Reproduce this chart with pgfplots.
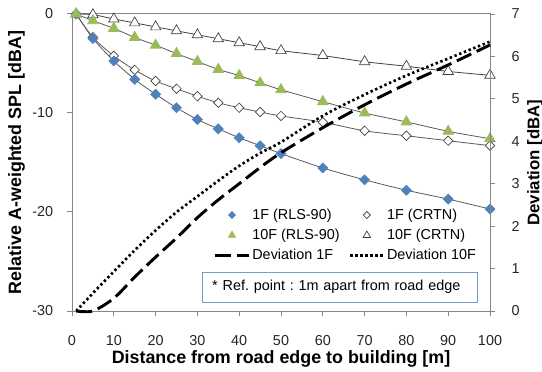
\documentclass[border=0pt]{standalone}
\usepackage{pgfplots}
\usepackage{pgfplotstable}
\pgfplotsset{compat=1.18}
\usepackage{fontspec}
\setmainfont{Liberation Sans}
\frenchspacing
\definecolor{xblue}{RGB}{79,129,189}
\definecolor{xgreen}{RGB}{155,187,89}
\definecolor{axgray}{RGB}{134,134,134}
\definecolor{boxblue}{RGB}{120,155,205}
\pgfplotsset{
  leg code/.style={legend image code/.code={\path[draw=none,fill=none] (0pt,-3.5pt) rectangle (25.5pt,3.5pt);\draw[mark repeat=2,mark phase=2,##1] plot coordinates {(0pt,0pt)(12.75pt,0pt)(25.5pt,0pt)};}},
  common/.style={
    at={(54pt,45pt)}, anchor=south west,
    scale only axis, width=313.5pt, height=222.75pt,
    xmin=0, xmax=100,
    tick align=outside, major tick length=3.75pt,
    axis line style={draw=axgray, line width=0.75pt},
    tick style={draw=axgray, line width=0.75pt},
    tick label style={font=\fontsize{10.8}{13}\selectfont, text=black!85},
    /pgf/number format/assume math mode=true,
    label style={font=\bfseries\fontsize{13.4}{16}\selectfont},
    clip=false,
  },
}
\pgfplotstableread{
x r1 c1 r10 c10 d1 d10
1 0 0 0 0 0 0
5 -2.47 -2.35 -0.68 -0.07 0 0.42
10 -4.74 -4.23 -1.45 -0.5 0.3 0.93
15 -6.6 -5.65 -2.37 -0.9 0.8 1.43
20 -8.1 -6.77 -3.15 -1.3 1.27 1.9
25 -9.47 -7.55 -4.0 -1.7 1.72 2.33
30 -10.66 -8.3 -4.8 -2.1 2.2 2.7
35 -11.6 -8.97 -5.6 -2.5 2.62 3.07
40 -12.5 -9.47 -6.22 -2.9 3.0 3.42
45 -13.3 -9.9 -6.95 -3.3 3.38 3.72
50 -14.1 -10.3 -7.65 -3.7 3.73 3.98
60 -15.55 -10.93 -8.85 -4.2 4.32 4.6
70 -16.75 -11.8 -10.0 -4.82 4.86 5.1
80 -17.8 -12.3 -10.9 -5.28 5.35 5.55
90 -18.7 -12.8 -11.85 -5.8 5.8 5.95
100 -19.7 -13.3 -12.6 -6.19 6.27 6.35
}\data
\begin{document}
\begin{tikzpicture}
\path[use as bounding box] (0,0) rectangle (406.5pt,278.25pt);
\begin{axis}[common,
  ymin=-30, ymax=0,
  xtick={0,10,...,100}, ytick={-30,-20,-10,0},
  xtick pos=bottom, ytick pos=left,
  xticklabel style={anchor=base, yshift=-22.3pt},
  yticklabel style={anchor=east, xshift=-6.8pt},
  xlabel={Distance from road edge to building [m]},
  xlabel style={at={([yshift=-39.2pt]axis description cs:0.5,0)}, anchor=base},
  ylabel={Relative A-weighted SPL [dBA]},
  ylabel style={at={([xshift=-41.5pt]axis description cs:0,0.5)}, anchor=center},
]
\addplot[black!65, line width=0.6pt, smooth, mark=square*, mark size=2.5pt,
  mark options={rotate=45, fill=white, draw=black!75, line width=0.5pt}] table[x=x,y=c1]{\data};
\addplot[black!65, line width=0.6pt, smooth, mark=square*, mark size=2.6pt,
  mark options={rotate=45, fill=xblue, draw=xblue}] table[x=x,y=r1]{\data};
\addplot[black!75, line width=0.6pt, smooth, mark=triangle*, mark size=4.5pt,
  mark options={fill=white, draw=black!75, line width=0.5pt}] table[x=x,y=c10]{\data};
\addplot[black!65, line width=0.6pt, smooth, mark=triangle*, mark size=4.5pt,
  mark options={fill=xgreen, draw=xgreen}] table[x=x,y=r10]{\data};
\end{axis}
\begin{axis}[common,
  ymin=0, ymax=7, ytick={0,1,...,7},
  axis x line=none, axis y line*=right,
  yticklabel style={anchor=west, xshift=9pt},
  ylabel={Deviation [dBA]},
  ylabel style={at={([xshift=33.75pt]axis description cs:1,0.5)}, anchor=center, font=\bfseries\fontsize{12.6}{15}\selectfont},
  legend columns=2, legend cell align=left,
  legend style={at={(axis description cs:0.338,0.354)}, anchor=north west,
    draw=none, fill=none, inner sep=0pt,
    font=\fontsize{10.8}{13}\selectfont, column sep=0pt, row sep=1.9pt,
    nodes={inner xsep=1.4pt},
    /tikz/every even column/.append style={column sep=5.3pt}},
]
\addlegendimage{only marks, mark=square*, mark size=1.9pt, mark options={rotate=45, fill=xblue, draw=xblue}, leg code}
\addlegendentry{1F (RLS-90)}
\addlegendimage{only marks, mark=square*, mark size=1.9pt, mark options={rotate=45, fill=white, draw=black!80, line width=0.5pt}, leg code}
\addlegendentry{1F (CRTN)}
\addlegendimage{only marks, mark=triangle*, mark size=3.2pt, mark options={fill=xgreen, draw=xgreen}, leg code}
\addlegendentry{10F (RLS-90)}
\addlegendimage{only marks, mark=triangle*, mark size=3.2pt, mark options={fill=white, draw=black!80, line width=0.5pt}, leg code}
\addlegendentry{10F (CRTN)}
\addplot[black, line width=2.2pt, smooth, no marks, dash pattern=on 12pt off 4.5pt, leg code] table[x=x,y=d1]{\data};
\addlegendentry{Deviation 1F}
\addplot[black, line width=2pt, smooth, no marks, dash pattern=on 1.8pt off 2pt, leg code] table[x=x,y=d10]{\data};
\addlegendentry{Deviation 10F}
\node[draw=boxblue, line width=0.75pt, fill=white, anchor=west, text width=191.6pt,
  inner xsep=7.3pt, inner ysep=0pt, minimum height=22.5pt, align=left,
  font=\fontsize{10.8}{13}\selectfont] at (axis description cs:0.311,0.0808) {* Ref. point : 1m apart from road edge};
\end{axis}
\end{tikzpicture}
\end{document}
